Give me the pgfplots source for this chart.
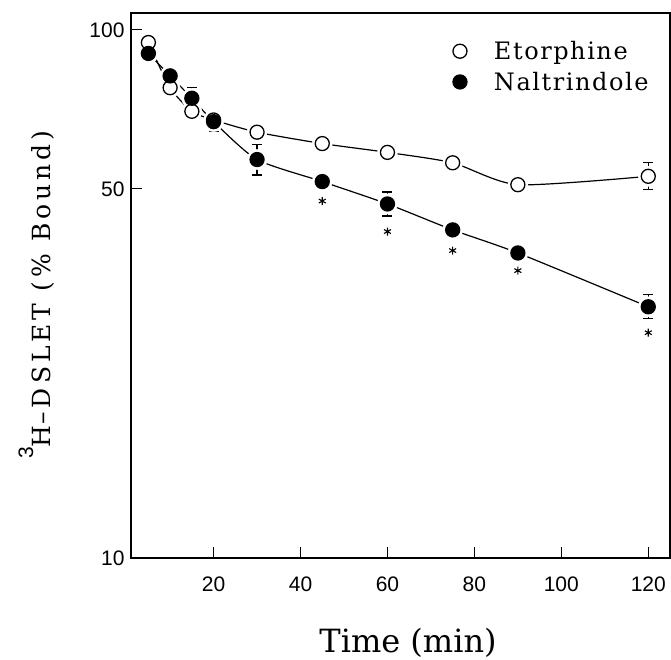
\documentclass[border=0pt]{standalone}
\usepackage{pgfplots}
\pgfplotsset{compat=1.18}
\usepackage{pgfplotstable}
\usepackage{fontspec}
\setmainfont{DejaVu Serif}
\newfontfamily\ticksf{Liberation Sans}
\newfontfamily\legfont[LetterSpace=6.5]{DejaVu Serif}
\newfontfamily\ylabfont[LetterSpace=16]{DejaVu Serif}
\newcommand\tickfont{\ticksf\fontsize{21}{24}\selectfont}

\pgfplotstableread{
x y ep em
5 94.6 0 0
10 77.7 0 0
15 70.1 0 0
20 67.5 0 0
30 64.0 0 0
45 60.9 0 0
60 58.6 0 0
75 56.0 0 0
90 50.9 1.3 1.3
120 52.8 3.2 3.0
}\etor

\pgfplotstableread{
x y ep em
5 90.2 3.0 3.0
10 81.8 1.0 1.0
15 74.2 3.5 3.3
20 67.0 3.0 2.8
30 56.8 3.9 3.7
45 51.6 1.0 1.0
60 46.8 2.5 2.4
75 41.8 1.5 1.5
90 37.8 0.8 0.8
120 29.9 1.6 1.5
}\nalt

\pgfplotstableread{
x y
45 47.4
60 41.5
75 38.2
90 35.0
120 26.7
}\stars

\begin{document}
\begin{tikzpicture}
\begin{axis}[
  scale only axis, width=539pt, height=545pt,
  at={(0,0)}, anchor=south west,
  xmin=1, xmax=125, ymin=10, ymax=107.6,
  ymode=log, log basis y=10,
  xtick={20,40,60,80,100,120},
  ytick={10,50,100}, yticklabels={10,50,100},
  yminorticks=false, xminorticks=false,
  tick pos=left, tick align=inside, major tick length=11pt,
  axis line style={line width=1.2pt},
  every tick/.style={black, line width=1.2pt},
  /pgf/number format/assume math mode=true,
  xticklabel style={font=\tickfont, yshift=-15pt},
  yticklabel style={font=\tickfont, xshift=-3pt},
  xlabel={Time (min)},
  every axis x label/.style={at={(axis description cs:0.514,-0.1725)}, anchor=base, font=\fontsize{32}{36}\selectfont},
  ylabel={\raisebox{17pt}{\ticksf\fontsize{21}{21}\selectfont 3}\ylabfont\fontsize{25}{28}\selectfont H\kern1pt\textendash DSLET (\% Bound)},
  every axis y label/.style={at={(axis description cs:-0.176,0.483)}, rotate=90, anchor=center},
  legend style={at={(axis description cs:0.597,0.952)}, anchor=north west, draw=none, fill=none,
    font=\legfont\fontsize{24}{28}\selectfont, row sep=7pt, inner sep=0pt,
    /tikz/every odd column/.append style={column sep=25pt}},
  legend cell align=left,
]
% connecting curves
\addplot[forget plot, black, line width=1.2pt, smooth, tension=0.4, mark=none] table[x=x,y=y] {\etor};
\addplot[forget plot, black, line width=1.2pt, smooth, tension=0.4, mark=none] table[x=x,y=y] {\nalt};
% white halos for gaps
\addplot[forget plot, only marks, mark=*, mark size=10pt, mark options={draw=white, fill=white, line width=0.5pt}] table[x=x,y=y] {\etor};
\addplot[forget plot, only marks, mark=*, mark size=10pt, mark options={draw=white, fill=white, line width=0.5pt}] table[x=x,y=y] {\nalt};
% markers with error bars
\addplot[black, only marks, mark=*, mark size=7pt, mark options={fill=white, draw=black, line width=1.3pt},
  error bars/.cd, y dir=both, y explicit, error mark=-, error mark options={mark size=5pt, line width=1.2pt, rotate=90},
  error bar style={line width=1.2pt}]
  table[x=x, y=y, y error plus=ep, y error minus=em] {\etor};
\addlegendentry{Etorphine}
\addplot[black, only marks, mark=*, mark size=7pt, mark options={fill=black, draw=black, line width=1.3pt},
  error bars/.cd, y dir=both, y explicit, error mark=-, error mark options={mark size=5pt, line width=1.2pt, rotate=90},
  error bar style={line width=1.2pt}]
  table[x=x, y=y, y error plus=ep, y error minus=em] {\nalt};
\addlegendentry{Naltrindole}
% significance asterisks
\addplot[forget plot, black, only marks, mark=asterisk, mark size=4pt, mark options={line width=1.1pt}] table[x=x,y=y] {\stars};
\end{axis}
\pgfresetboundingbox
\path (-131pt,-102pt) rectangle (540pt,558pt);
\end{tikzpicture}
\end{document}
